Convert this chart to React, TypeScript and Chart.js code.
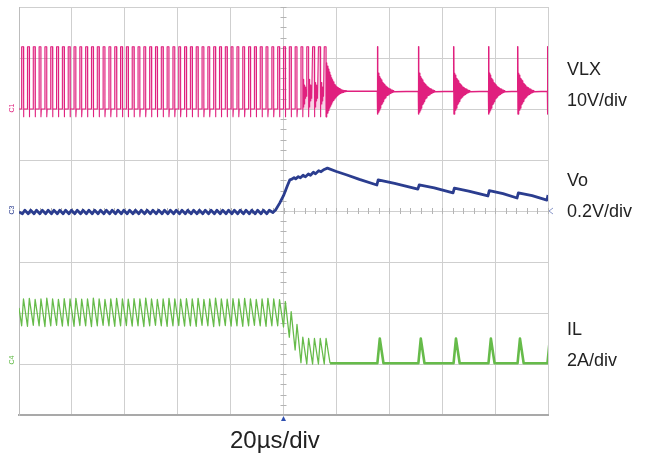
import React, { useEffect, useRef } from "react";
import { Chart, registerables } from "chart.js";

Chart.register(...registerables);

// ---- time base (µs), 20 µs/div ----
const timeMin = -100;
const timeMax = 100;
const timePerDiv = 20;
const divMin = -4;
const divMax = 4;

// ---- channel scales / reference offsets (divisions) ----
const vlxPerDiv = 10; // V/div
const vlxOffsetDiv = 2;
const voPerDiv = 0.2; // V/div
const voOffsetDiv = 0;
const ilPerDiv = 2; // A/div
const ilOffsetDiv = -3;

// ---- VLX switching rising edges (µs) ----
const vlxEdges = [
  -99.0, -96.8, -94.6, -92.4, -90.2, -88.0, -85.8, -83.6, -81.4, -79.2,
  -77.0, -74.8, -72.6, -70.4, -68.2, -66.0, -63.8, -61.6, -59.4, -57.2,
  -55.0, -52.8, -50.6, -48.4, -46.2, -44.0, -41.8, -39.6, -37.4, -35.2,
  -33.0, -30.8, -28.6, -26.4, -24.2, -22.0, -19.8, -17.6, -15.4, -13.2,
  -11.0, -8.8, -6.6, -4.4, -2.2, 0.0, 2.2, 4.4, 6.6, 8.8, 11.0, 13.2, 15.4,
];
const vlxOnTime = 0.7;
const vlxHigh = 12.2;
const vlxLow = 0;
const vlxUndershoot = -1.5;
const vlxSettle = 3.5;
const vlxSpikeLow = -1.0;
const dcmStart = 6.6;
const dcmRingDelay = 0.15;
const dcmRingStep = 0.12;
const dcmRingPeaks = [5.8, 0.4, 5.2, 1.0, 4.7, 1.6, 4.3, 2.1, 4.0, 2.5];

// ring right after switching stops (big one)
const firstRingStep = 0.18;
const firstRingPeaks = [
  9.0, -1.2, 8.4, -0.8, 7.8, -0.3, 7.2, 0.2, 6.6, 0.6, 6.1, 1.0, 5.7, 1.4,
  5.3, 1.7, 5.0, 2.0, 4.8, 2.3, 4.5, 2.5, 4.3, 2.7, 4.2, 2.85, 4.05, 3.0,
  3.95, 3.1, 3.85, 3.2, 3.75, 3.25, 3.7, 3.3, 3.62, 3.36, 3.58, 3.42, 3.55,
  3.45, 3.52, 3.48,
];
// pulse-skipping bursts
const burstTimes = [35.5, 51.0, 64.3, 77.5, 88.5, 99.8];
const ringStep = 0.14;
const ringPeaks = [
  7.0, -0.6, 6.6, -0.2, 6.3, 0.2, 6.0, 0.6, 5.7, 0.9, 5.5, 1.2, 5.2, 1.5,
  5.0, 1.8, 4.8, 2.0, 4.6, 2.2, 4.5, 2.4, 4.3, 2.6, 4.2, 2.7, 4.1, 2.8, 4.0,
  2.9, 3.9, 3.0, 3.85, 3.1, 3.8, 3.2, 3.7, 3.25, 3.65, 3.3, 3.6, 3.35, 3.55,
  3.4,
];

// ---- IL (A): valley at each rising edge, peak at each falling edge ----
const ilValleys = [
  1.5, 1.48, 1.52, 1.5, 1.47, 1.5, 1.52, 1.49, 1.5, 1.48,
  1.51, 1.5, 1.47, 1.5, 1.52, 1.5, 1.48, 1.5, 1.51, 1.49,
  1.5, 1.47, 1.5, 1.52, 1.5, 1.48, 1.5, 1.51, 1.49, 1.5,
  1.48, 1.52, 1.5, 1.47, 1.5, 1.51, 1.49, 1.5, 1.48, 1.5,
  1.52, 1.5, 1.48, 1.5, 1.5, 1.45, 1.05, 0.55, 0.05, 0.0,
  0.0, 0.0, 0.0,
];
const ilPeaks = [
  2.55, 2.57, 2.53, 2.55, 2.58, 2.55, 2.53, 2.56, 2.55, 2.57,
  2.54, 2.55, 2.58, 2.55, 2.53, 2.55, 2.57, 2.55, 2.54, 2.56,
  2.55, 2.58, 2.55, 2.53, 2.55, 2.57, 2.55, 2.54, 2.56, 2.55,
  2.57, 2.53, 2.55, 2.58, 2.55, 2.54, 2.56, 2.55, 2.57, 2.55,
  2.53, 2.55, 2.57, 2.55, 2.52, 2.45, 2.05, 1.55, 1.05, 1.0,
  1.0, 1.0, 1.0,
];
const ilStart = 2.2;
const ilFloor = 0.03;
const ilLastFall = 1.5;
const ilBurstPeak = 1.0;
const ilBurstRise = 0.9;
const ilBurstFall = 1.4;

// ---- Vo (V, relative to reference) ----
const voFlat = -0.004;
const voRippleLow = -0.011;
const voRippleHigh = 0.003;
const voRippleEnd = -5;
const voTimes = [
  -4.0, -3.0, -1.5, 0.0, 1.5, 2.4, 3.2, 4.0, 4.6, 5.6, 6.4, 7.4, 8.3, 9.4,
  10.2, 11.3, 12.1, 13.3, 14.2, 15.4, 16.6, 20.0, 24.0, 28.7, 35.3, 35.8,
  42.0, 50.8, 51.3, 57.0, 64.1, 64.6, 70.0, 77.3, 77.8, 83.0, 88.3, 88.8,
  94.0, 99.6, 100.0,
];
const voValues = [
  -0.006, 0.004, 0.03, 0.06, 0.1, 0.122, 0.125, 0.131, 0.126, 0.135, 0.13,
  0.14, 0.134, 0.145, 0.14, 0.152, 0.146, 0.158, 0.154, 0.163, 0.168, 0.155,
  0.141, 0.124, 0.102, 0.122, 0.108, 0.086, 0.102, 0.091, 0.071, 0.09, 0.078,
  0.059, 0.08, 0.068, 0.051, 0.071, 0.06, 0.043, 0.063,
];

// ---- text ----
const channelLabels = [
  { name: "VLX", scale: "10V/div", top: 54, color: "#e0207e", mark: "C1", markY: 110 },
  { name: "Vo", scale: "0.2V/div", top: 165, color: "#2b3d8f", mark: "C3", markY: 212 },
  { name: "IL", scale: "2A/div", top: 314, color: "#5fb844", mark: "C4", markY: 362 },
];
const timeLabel = "20µs/div";

const colors = {
  vlx: "#e0207e",
  vlxFill: "rgba(226, 90, 160, 0.28)",
  vlxRingFill: "rgba(226, 40, 130, 0.75)",
  vo: "#2b3d8f",
  il: "#66bb4a",
  grid: "#cfcfcf",
  tick: "#b4b4b4",
  marker: "#2f4fb0",
};

type P = { x: number; y: number };
const toDiv = (v: number, perDiv: number, off: number) => off + v / perDiv;

function buildVlxSwitching(): P[] {
  const pts: P[] = [{ x: timeMin, y: vlxLow }];
  const last = vlxEdges.length - 1;
  vlxEdges.forEach((tr, i) => {
    const tf = tr + vlxOnTime;
    const prevDcm = i > 0 && vlxEdges[i - 1] >= dcmStart;
    if (!prevDcm) pts.push({ x: tr, y: vlxLow });
    pts.push({ x: tr, y: vlxHigh }, { x: tf, y: vlxHigh }, { x: tf, y: vlxUndershoot });
    if (i < last) {
      if (tr >= dcmStart) {
        dcmRingPeaks.forEach((v, k) => pts.push({ x: tf + dcmRingDelay + k * dcmRingStep, y: v }));
      } else {
        pts.push({ x: tf + 0.15, y: vlxLow });
      }
    }
  });
  return pts.map((p) => ({ x: p.x, y: toDiv(p.y, vlxPerDiv, vlxOffsetDiv) }));
}

function buildVlxSkip(): P[] {
  const tf = vlxEdges[vlxEdges.length - 1] + vlxOnTime;
  const pts: P[] = [{ x: tf, y: vlxUndershoot }];
  firstRingPeaks.forEach((v, k) => pts.push({ x: tf + 0.1 + k * firstRingStep, y: v }));
  burstTimes.forEach((tb) => {
    pts.push({ x: tb, y: vlxSettle }, { x: tb, y: vlxHigh }, { x: tb + 0.12, y: vlxHigh }, { x: tb + 0.18, y: vlxSpikeLow });
    ringPeaks.forEach((v, k) => pts.push({ x: tb + 0.3 + k * ringStep, y: v }));
  });
  return pts.map((p) => ({ x: p.x, y: toDiv(p.y, vlxPerDiv, vlxOffsetDiv) }));
}

function buildIlSwitching(): P[] {
  const pts: P[] = [{ x: timeMin, y: ilStart }];
  vlxEdges.forEach((tr, i) => {
    pts.push({ x: tr, y: ilValleys[i] }, { x: tr + vlxOnTime, y: ilPeaks[i] });
  });
  const lastF = vlxEdges[vlxEdges.length - 1] + vlxOnTime;
  pts.push({ x: lastF + ilLastFall, y: ilFloor });
  return pts.map((p) => ({ x: p.x, y: toDiv(p.y, ilPerDiv, ilOffsetDiv) }));
}

function buildIlSkip(): P[] {
  const lastF = vlxEdges[vlxEdges.length - 1] + vlxOnTime;
  const pts: P[] = [{ x: lastF + ilLastFall, y: ilFloor }];
  burstTimes.forEach((tb) => {
    pts.push(
      { x: tb, y: ilFloor },
      { x: tb + ilBurstRise, y: ilBurstPeak },
      { x: tb + ilBurstRise + ilBurstFall, y: ilFloor }
    );
  });
  pts.push({ x: timeMax, y: ilFloor });
  return pts.map((p) => ({ x: p.x, y: toDiv(p.y, ilPerDiv, ilOffsetDiv) }));
}

function buildVo(): P[] {
  const pts: P[] = [{ x: timeMin, y: voFlat }];
  vlxEdges.forEach((tr) => {
    if (tr < voRippleEnd) {
      pts.push({ x: tr + 0.3, y: voRippleLow }, { x: tr + 1.2, y: voRippleHigh });
    }
  });
  voTimes.forEach((t, i) => pts.push({ x: t, y: voValues[i] }));
  return pts.map((p) => ({ x: p.x, y: toDiv(p.y, voPerDiv, voOffsetDiv) }));
}

const scopeDecor = {
  id: "scopeDecor",
  beforeDatasetsDraw(chart: any) {
    const { ctx, scales } = chart;
    const x = scales.x;
    const y = scales.y;
    const cx = x.getPixelForValue(0);
    const cy = y.getPixelForValue(0);
    ctx.save();
    ctx.strokeStyle = colors.tick;
    ctx.lineWidth = 1;
    ctx.beginPath();
    for (let t = timeMin; t <= timeMax + 1e-6; t += timePerDiv / 5) {
      const px = Math.round(x.getPixelForValue(t)) + 0.5;
      ctx.moveTo(px, cy - 3);
      ctx.lineTo(px, cy + 3);
    }
    for (let d = divMin; d <= divMax + 1e-6; d += 0.2) {
      const py = Math.round(y.getPixelForValue(d)) + 0.5;
      ctx.moveTo(cx - 3, py);
      ctx.lineTo(cx + 3, py);
    }
    ctx.stroke();
    ctx.restore();
  },
  afterDatasetsDraw(chart: any) {
    const { ctx, scales, chartArea } = chart;
    const cx = scales.x.getPixelForValue(0);
    const vy = scales.y.getPixelForValue(voOffsetDiv);
    ctx.save();
    ctx.fillStyle = colors.marker;
    ctx.beginPath();
    ctx.moveTo(cx, chartArea.bottom + 1);
    ctx.lineTo(cx - 2.5, chartArea.bottom + 6);
    ctx.lineTo(cx + 2.5, chartArea.bottom + 6);
    ctx.closePath();
    ctx.fill();
    ctx.strokeStyle = "#8a97c8";
    ctx.lineWidth = 1;
    ctx.beginPath();
    ctx.moveTo(chartArea.right + 5, vy - 3);
    ctx.lineTo(chartArea.right + 1, vy);
    ctx.lineTo(chartArea.right + 5, vy + 3);
    ctx.stroke();
    ctx.restore();
  },
};

export default function App() {
  const ref = useRef<HTMLCanvasElement | null>(null);

  useEffect(() => {
    if (!ref.current) return;
    const chart = new Chart(ref.current, {
      type: "line",
      data: {
        datasets: [
          {
            label: "VLX",
            data: buildVlxSwitching(),
            borderColor: colors.vlx,
            backgroundColor: colors.vlxFill,
            borderWidth: 1.1,
            fill: { value: vlxOffsetDiv },
          },
          {
            label: "VLX skip",
            data: buildVlxSkip(),
            borderColor: colors.vlx,
            backgroundColor: colors.vlxRingFill,
            borderWidth: 1.5,
            fill: { value: vlxOffsetDiv + vlxSettle / vlxPerDiv },
          },
          {
            label: "IL",
            data: buildIlSwitching(),
            borderColor: colors.il,
            borderWidth: 1.3,
            fill: false,
          },
          {
            label: "IL skip",
            data: buildIlSkip(),
            borderColor: colors.il,
            borderWidth: 2.6,
            fill: false,
          },
          {
            label: "Vo",
            data: buildVo(),
            borderColor: colors.vo,
            borderWidth: 2.8,
            fill: false,
          },
        ] as any,
      },
      options: {
        animation: false,
        responsive: false,
        maintainAspectRatio: false,
        layout: { padding: { left: 19, right: 99, top: 7, bottom: 41 } },
        plugins: { legend: { display: false }, tooltip: { enabled: false } },
        elements: { point: { radius: 0 }, line: { tension: 0, borderJoinStyle: "round" } },
        scales: {
          x: {
            type: "linear",
            min: timeMin,
            max: timeMax,
            ticks: { display: false, stepSize: timePerDiv },
            grid: { color: colors.grid, drawTicks: false, lineWidth: 1 },
            border: { display: true, color: "#a9a9a9", width: 2 },
          },
          y: {
            type: "linear",
            min: divMin,
            max: divMax,
            ticks: { display: false, stepSize: 1 },
            grid: { color: colors.grid, drawTicks: false, lineWidth: 1 },
            border: { display: true, color: "#bdbdbd", width: 1 },
          },
        },
      } as any,
      plugins: [scopeDecor],
    });
    return () => chart.destroy();
  }, []);

  const font = "'Liberation Sans', Arial, Helvetica, sans-serif";
  return (
    <div style={{ position: "absolute", left: 0, top: 0, width: 647, height: 456, background: "#fff", fontFamily: font }}>
      <canvas ref={ref} width={647} height={456} style={{ position: "absolute", left: 0, top: 0 }} />
      {channelLabels.map((c) => (
        <React.Fragment key={c.name}>
          <div style={{ position: "absolute", left: 567, top: c.top, fontSize: 18, lineHeight: "31px", color: "#222" }}>
            {c.name}
            <br />
            {c.scale}
          </div>
          <div
            style={{
              position: "absolute",
              left: 8,
              top: c.markY - 6,
              fontSize: 7,
              lineHeight: "8px",
              color: c.color,
              transform: "rotate(-90deg)",
              transformOrigin: "center",
            }}
          >
            {c.mark}
          </div>
        </React.Fragment>
      ))}
      <div style={{ position: "absolute", left: 230, top: 426, fontSize: 24, lineHeight: "28px", color: "#222" }}>
        {timeLabel}
      </div>
    </div>
  );
}
